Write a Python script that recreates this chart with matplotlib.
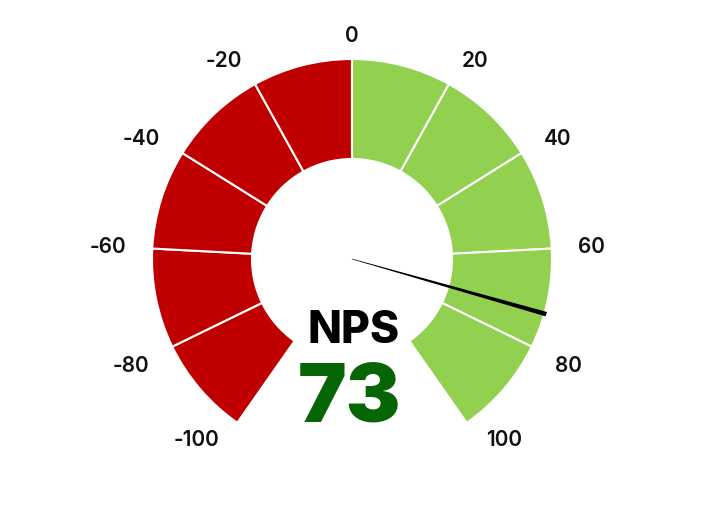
import numpy as np
import matplotlib
matplotlib.use("Agg")
import matplotlib.pyplot as plt
from matplotlib.patches import Wedge, Polygon

# ---- data ----
band_edges = [-100, -80, -60, -40, -20, 0, 20, 40, 60, 80, 100]
band_colors = ["#c00000"] * 5 + ["#92d050"] * 5
tick_values = [-100, -80, -60, -40, -20, 0, 20, 40, 60, 80, 100]
tick_labels = [str(v) for v in tick_values]
nps_value = 73
title_text = "NPS"

# ---- layout ----
W, H = 704, 520
cx_px, cy_px = 352, 259
R_OUT, R_IN = 200, 100
MAX_ANG = 145.0  # degrees from vertical for value +/-100

fig = plt.figure(figsize=(W / 100, H / 100), dpi=100)
ax = fig.add_axes([0, 0, 1, 1])
ax.set_xlim(-cx_px, W - cx_px)
ax.set_ylim(-(H - cy_px), cy_px)
ax.set_aspect("equal")
ax.axis("off")

FONT = ["Inter", "DejaVu Sans"]


def val_to_math_deg(v):
    a = v / 100.0 * MAX_ANG  # clockwise from up
    return 90.0 - a


for lo, hi, col in zip(band_edges[:-1], band_edges[1:], band_colors):
    t1 = val_to_math_deg(hi)
    t2 = val_to_math_deg(lo)
    ax.add_patch(Wedge((0, 0), R_OUT, t1, t2, width=R_OUT - R_IN,
                       facecolor=col, edgecolor="white", linewidth=1.5,
                       zorder=2))

# tick labels
R_LAB = 226
for v, lab in zip(tick_values, tick_labels):
    th = np.deg2rad(val_to_math_deg(v))
    x, y = R_LAB * np.cos(th), R_LAB * np.sin(th)
    if v > 0:
        ha = "left"
    elif v < 0:
        ha = "right"
    else:
        ha = "center"
        y -= 3
    if abs(v) == 80:
        y -= 8
    if abs(v) == 100:
        y += 4
        x += 4 if v > 0 else -3
    ax.text(x, y, lab, ha=ha, va="center", fontsize=15, family=FONT,
            fontweight="semibold", color="#111111", zorder=5)

# needle
th = np.deg2rad(val_to_math_deg(nps_value))
ux, uy = np.cos(th), np.sin(th)
px, py = -uy, ux
L = 202
w0, w1 = 0.3, 2.3
pts = [(px * w0, py * w0), (ux * L + px * w1, uy * L + py * w1),
       (ux * L - px * w1, uy * L - py * w1), (-px * w0, -py * w0)]
ax.add_patch(Polygon(pts, closed=True, facecolor="black", edgecolor="none",
                     zorder=4))

# center texts
ax.text(2, -84, title_text, ha="center", va="baseline", fontsize=32,
        family=FONT, fontweight="heavy", color="black", zorder=6)
ax.text(-2, -163, str(nps_value), ha="center", va="baseline", fontsize=59,
        family=FONT, fontweight="black", color="#066606", zorder=6)

fig.savefig("out.png", dpi=100, facecolor="white")
